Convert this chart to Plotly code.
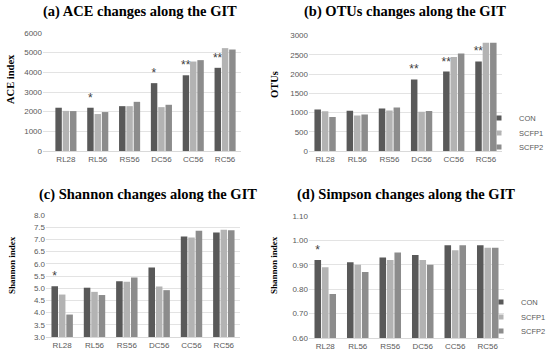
import plotly.graph_objects as go

categories = ["RL28", "RL56", "RS56", "DC56", "CC56", "RC56"]
groups = ["CON", "SCFP1", "SCFP2"]
colors = ["#595959", "#b3b3b3", "#8c8c8c"]

ace_con = [2200, 2200, 2280, 3450, 3850, 4230]
ace_scfp1 = [2040, 1880, 2280, 2230, 4550, 5230]
ace_scfp2 = [2030, 1980, 2500, 2350, 4620, 5160]
ace_sig = ["", "*", "", "*", "**", "**"]

otu_con = [1080, 1045, 1105, 1860, 2065, 2325]
otu_scfp1 = [1030, 925, 1055, 1020, 2440, 2810]
otu_scfp2 = [880, 950, 1130, 1040, 2535, 2810]
otu_sig = ["", "", "", "**", "**", "**"]

sha_con = [5.08, 5.02, 5.28, 5.85, 7.12, 7.28]
sha_scfp1 = [4.74, 4.85, 5.26, 5.07, 7.08, 7.40]
sha_scfp2 = [3.92, 4.72, 5.44, 4.92, 7.35, 7.37]
sha_sig = ["*", "", "", "", "", ""]

sim_con = [0.92, 0.91, 0.93, 0.94, 0.98, 0.98]
sim_scfp1 = [0.89, 0.90, 0.92, 0.92, 0.96, 0.97]
sim_scfp2 = [0.78, 0.87, 0.95, 0.90, 0.98, 0.97]
sim_sig = ["*", "", "", "", "", ""]

titles = ["(a) ACE changes along the GIT", "(b) OTUs changes along the GIT",
          "(c) Shannon changes along the GIT", "(d) Simpson changes along the GIT"]
ytitles = ["ACE index", "OTUs", "Shannon index", "Shannon index"]

W, H = 550, 358
def px(x): return x / W
def py(y): return 1 - y / H

panels = [
    dict(data=[ace_con, ace_scfp1, ace_scfp2], sig=ace_sig, rng=[0, 6000], dtick=1000, fmt="d",
         dom_x=[px(43), px(241)], xr=[-0.72, 5.5], dom_y=[py(151), py(33)],
         title_xy=(140, 12), yt_xy=(11, 79), yt_size=10.5),
    dict(data=[otu_con, otu_scfp1, otu_scfp2], sig=otu_sig, rng=[0, 3000], dtick=500, fmt="d",
         dom_x=[px(309), px(502)], xr=[-0.5, 5.5], dom_y=[py(151), py(35.5)],
         title_xy=(405, 12), yt_xy=(274, 85), yt_size=10.5),
    dict(data=[sha_con, sha_scfp1, sha_scfp2], sig=sha_sig, rng=[3, 8], dtick=0.5, fmt=".1f",
         dom_x=[px(46), px(240)], xr=[-0.5, 5.5], dom_y=[py(337), py(215)],
         title_xy=(148, 194), yt_xy=(12, 265), yt_size=9),
    dict(data=[sim_con, sim_scfp1, sim_scfp2], sig=sim_sig, rng=[0.6, 1.1], dtick=0.1, fmt=".2f",
         dom_x=[px(309), px(504)], xr=[-0.5, 5.5], dom_y=[py(338), py(216)],
         title_xy=(406, 195), yt_xy=(274, 265), yt_size=9),
]

fig = go.Figure()
tick_font = dict(family="Liberation Sans, Arial, sans-serif", size=8, color="#595959")
annotations = []
for i, p in enumerate(panels):
    n = i + 1
    xa = "x" if n == 1 else f"x{n}"
    ya = "y" if n == 1 else f"y{n}"
    for g, (name, col, vals) in enumerate(zip(groups, colors, p["data"])):
        kw = {}
        if g == 0:
            kw = dict(text=p["sig"], textposition="outside", constraintext="none", cliponaxis=False,
                      textfont=dict(size=12, color="#404040", family="Liberation Sans, Arial"))
        fig.add_trace(go.Bar(x=categories, y=vals, name=name, marker_color=col,
                             marker_line_width=0, showlegend=False, xaxis=xa, yaxis=ya, **kw))
    layout_x = "xaxis" if n == 1 else f"xaxis{n}"
    layout_y = "yaxis" if n == 1 else f"yaxis{n}"
    fig.update_layout({
        layout_x: dict(domain=p["dom_x"], anchor=ya, range=p["xr"], showgrid=False, showline=True,
                       linecolor="#d9d9d9", linewidth=1, ticks="", tickfont=tick_font, fixedrange=True),
        layout_y: dict(domain=p["dom_y"], anchor=xa, range=p["rng"], dtick=p["dtick"],
                       tickformat=p["fmt"], showgrid=True, gridcolor="#e3e3e3", gridwidth=1,
                       zeroline=False, showline=False, ticks="", tickfont=tick_font, fixedrange=True),
    })
    tx, ty = p["title_xy"]
    annotations.append(dict(text="<b>" + titles[i] + "</b>", x=px(tx), y=py(ty), xref="paper", yref="paper",
                            xanchor="center", yanchor="middle", showarrow=False,
                            font=dict(family="Liberation Serif, Times New Roman, serif", size=14.5, color="black")))
    ax, ay = p["yt_xy"]
    annotations.append(dict(text="<b>" + ytitles[i] + "</b>", x=px(ax), y=py(ay), xref="paper", yref="paper",
                            xanchor="center", yanchor="middle", showarrow=False, textangle=-90,
                            font=dict(family="Liberation Serif, Times New Roman, serif",
                                      size=p["yt_size"], color="black")))

# legend proxies: one small legend per entry so spacing matches the reference
legend_pos = {  # (legend text left x, item center y) in pixels
    "b": [(520, 118), (520, 133), (520, 147)],
    "d": [(522, 302), (522, 317), (522, 331)],
}
legend_style = dict(font=dict(family="Liberation Sans, Arial, sans-serif", size=7.5, color="#595959"),
                    bgcolor="rgba(0,0,0,0)", itemwidth=30, tracegroupgap=0,
                    xanchor="left", yanchor="middle")
k = 0
legend_layout = {}
for panel in ["b", "d"]:
    for (name, col), (lx, ly) in zip(zip(groups, colors), legend_pos[panel]):
        k += 1
        lname = "legend" if k == 1 else f"legend{k}"
        fig.add_trace(go.Scatter(x=[None], y=[None], mode="markers", name=name,
                                 marker=dict(symbol="square", size=5, color=col),
                                 legend=lname, showlegend=True, xaxis="x2", yaxis="y2"))
        legend_layout[lname] = dict(x=px(lx - 41), y=py(ly), **legend_style)

fig.update_layout(
    width=W, height=H, margin=dict(l=0, r=0, t=0, b=0, autoexpand=False),
    plot_bgcolor="white", paper_bgcolor="white",
    barmode="group", bargap=0.31, bargroupgap=0.12,
    annotations=annotations,
    **legend_layout,
)

# remove the default 8px page margin so the figure sits at the window's corner
fig.write_html("out.html", config={"displayModeBar": False},
               post_script="document.body.style.margin='0';document.body.style.overflow='hidden';")
